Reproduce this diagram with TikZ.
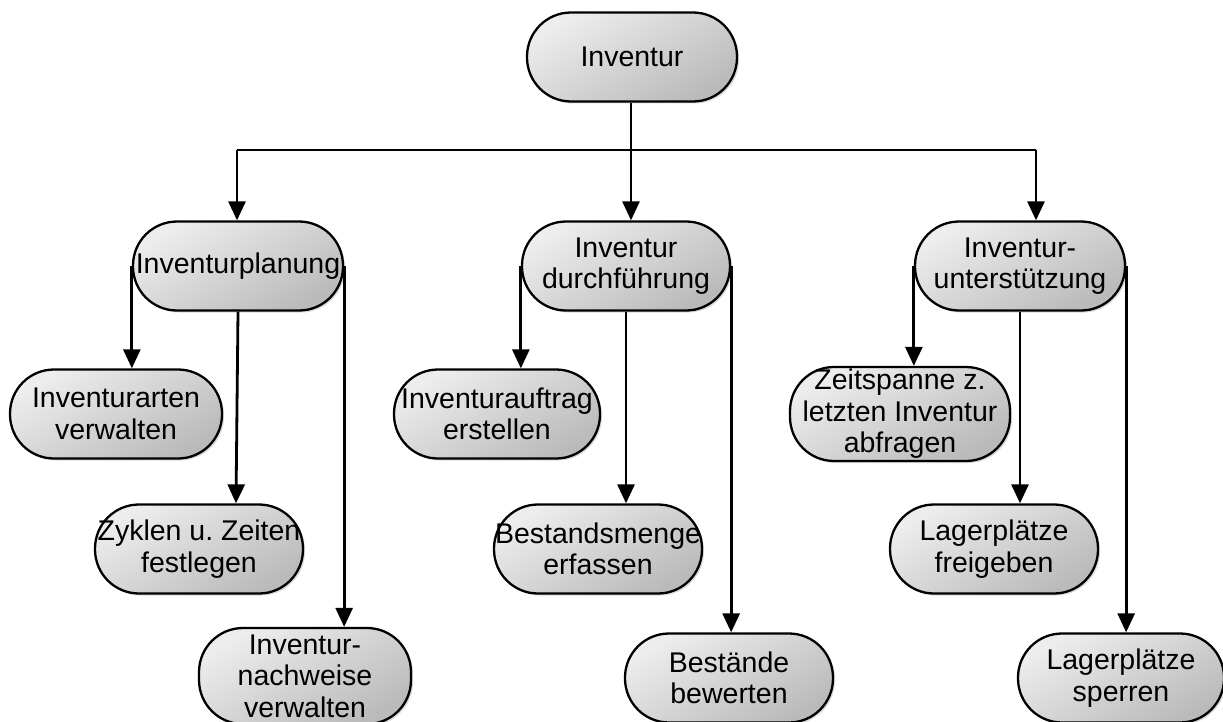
\documentclass[tikz,border=0pt]{standalone}
\usepackage{fontspec}
\setmainfont{Liberation Sans}
\usetikzlibrary{arrows.meta,shadows}
\frenchspacing

\begin{document}
\begin{tikzpicture}[x=1pt,y=-1pt,
  box/.style={draw=black, line width=2.3pt, rounded corners=44pt,
    minimum height=89pt, inner sep=0pt, align=center,
    top color=black!7, bottom color=black!27, shading angle=30,
    drop shadow={shadow xshift=2pt, shadow yshift=-2pt, opacity=0.25, fill=black!60},
    font=\fontsize{28.5}{31.5}\selectfont},
  line/.style={line width=2.8pt},
  arr/.style={line width=2.8pt, -{Triangle[width=17pt,length=19pt]}}]

\useasboundingbox (0,0) rectangle (1223,722);

% top level
\node[box, minimum width=210pt] (inv) at (632,57) {Inventur};

% second level
\node[box, minimum width=210pt] (plan) at (238,266) {Inventurplanung};
\node[box, minimum width=208pt] (dur)  at (626,266) {Inventur\\durchführung};
\node[box, minimum width=210pt] (unt)  at (1020,266) {Inventur-\\unterstützung};

% third level
\node[box, minimum width=212pt] (art)  at (116,414) {Inventurarten\\verwalten};
\node[box, minimum width=208pt] (zyk)  at (199,549) {Zyklen u. Zeiten\\festlegen};
\node[box, minimum width=212pt, minimum height=96pt] (nach) at (305,676) {Inventur-\\nachweise\\verwalten};

\node[box, minimum width=206pt] (auf)  at (497,414) {Inventurauftrag\\erstellen};
\node[box, minimum width=208pt] (best) at (598,549) {Bestandsmenge\\erfassen};
\node[box, minimum width=208pt] (bew)  at (729,678) {Bestände\\bewerten};

\node[box, minimum width=220pt, minimum height=94pt] (zeit) at (900,414) {Zeitspanne z.\\letzten Inventur\\abfragen};
\node[box, minimum width=208pt] (frei) at (994,549) {Lagerplätze\\freigeben};
\node[box, minimum width=206pt] (sper) at (1121,678) {Lagerplätze\\sperren};

% bus below the root
\coordinate (busM) at (631,150);
\coordinate (busL) at (237,150);
\coordinate (busR) at (1036,150);
\draw[line] (inv.south -| busM) -- (busM);
\draw[line] (busL) -- (busR);
\draw[arr] (busL) -- (busL |- plan.north);
\draw[arr] (busM) -- (busM |- dur.north);
\draw[arr] (busR) -- (busR |- unt.north);

% Inventurplanung branches
\draw[arr] (plan.west) -- (plan.west |- art.north);
\draw[arr] (plan.south) -- ([xshift=-2pt]plan.south |- zyk.north);
\draw[arr] (plan.east) -- (plan.east |- nach.north);

% Inventur durchfuehrung branches
\draw[arr] (dur.west) -- (dur.west |- auf.north);
\draw[arr] (dur.south) -- (dur.south |- best.north);
\draw[arr] (dur.east) -- (dur.east |- bew.north);

% Inventur-unterstuetzung branches
\draw[arr] (unt.west) -- (unt.west |- zeit.north);
\draw[arr] (unt.south) -- (unt.south |- frei.north);
\draw[arr] (unt.east) -- (unt.east |- sper.north);

\end{tikzpicture}
\end{document}
